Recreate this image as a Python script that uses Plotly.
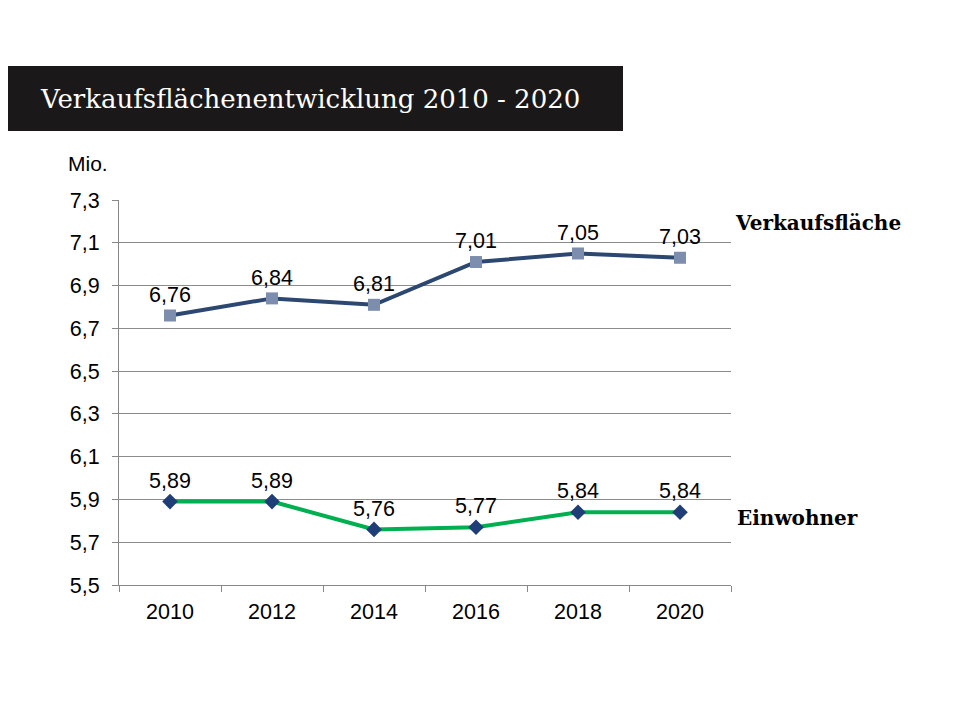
import plotly.graph_objects as go

years = ["2010", "2012", "2014", "2016", "2018", "2020"]
verkauf = [6.76, 6.84, 6.81, 7.01, 7.05, 7.03]
einwohner = [5.89, 5.89, 5.76, 5.77, 5.84, 5.84]
y_ticks = [5.5, 5.7, 5.9, 6.1, 6.3, 6.5, 6.7, 6.9, 7.1, 7.3]

def fmt(v):
    return f"{v:.2f}".replace(".", ",")

# plot area in screen pixels (page has 8px body offset)
PL, PR, PT, PB = 119, 731, 200, 585
W, H = PR - PL, PB - PT

def px(x):
    return (x - PL) / W

def py(y):
    return (PB - y) / H

fig = go.Figure()
fig.add_trace(go.Scatter(
    x=years, y=verkauf, mode="lines+markers+text",
    line=dict(color="#2C4770", width=4),
    marker=dict(symbol="square", size=12, color="#7D8DAD"),
    text=[fmt(v) for v in verkauf], textposition="top center",
    textfont=dict(family="Liberation Sans, Arial", size=21.5, color="#000000"),
    cliponaxis=False, showlegend=False))
fig.add_trace(go.Scatter(
    x=years, y=einwohner, mode="lines+markers+text",
    line=dict(color="#00B050", width=4),
    marker=dict(symbol="diamond", size=12, color="#1F3E78"),
    text=[fmt(v) for v in einwohner], textposition="top center",
    textfont=dict(family="Liberation Sans, Arial", size=21.5, color="#000000"),
    cliponaxis=False, showlegend=False))

fig.update_layout(
    width=960, height=720,
    margin=dict(l=PL - 8, r=960 - PR + 8, t=PT - 8, b=720 - PB + 8),
    paper_bgcolor="white", plot_bgcolor="white",
    separators=", ",
    font=dict(family="Liberation Sans, Arial", size=21.5, color="#000000"),
    xaxis=dict(type="category", tickson="boundaries", ticks="outside", ticklen=6,
               tickcolor="#888888", showline=True, linecolor="#888888", linewidth=1,
               showgrid=False, range=[-0.5, 5.5], tickfont=dict(size=21.5),
               ticklabelstandoff=7),
    yaxis=dict(range=[5.5, 7.3], tickvals=y_ticks, tickformat=".1f",
               ticks="outside", ticklen=6, tickcolor="#888888",
               showline=True, linecolor="#888888", linewidth=1,
               showgrid=True, gridcolor="#8C8C8C", gridwidth=1,
               zeroline=False, tickfont=dict(size=21.5), ticklabelstandoff=8),
    shapes=[dict(type="rect", xref="paper", yref="paper", x0=px(0), x1=px(623),
                 y0=py(131), y1=py(66),
                 fillcolor="#1B1819", line=dict(width=0), layer="above")],
    annotations=[
        dict(text="Verkaufsflächenentwicklung 2010 - 2020", xref="paper", yref="paper",
             x=px(38), y=py(99), xanchor="left", yanchor="middle", showarrow=False,
             font=dict(family="DejaVu Serif", size=26, color="white")),
        dict(text="Mio.", xref="paper", yref="paper", x=px(66), y=py(163),
             xanchor="left", yanchor="middle", showarrow=False, font=dict(size=21)),
        dict(text="<b>Verkaufsfläche</b>", xref="paper", yref="paper", x=px(733),
             y=py(223), xanchor="left", yanchor="middle", showarrow=False,
             font=dict(family="DejaVu Serif", size=20, color="#000000")),
        dict(text="<b>Einwohner</b>", xref="paper", yref="paper", x=px(735),
             y=py(518), xanchor="left", yanchor="middle", showarrow=False,
             font=dict(family="DejaVu Serif", size=20, color="#000000")),
    ],
)
fig.write_html("out.html")
